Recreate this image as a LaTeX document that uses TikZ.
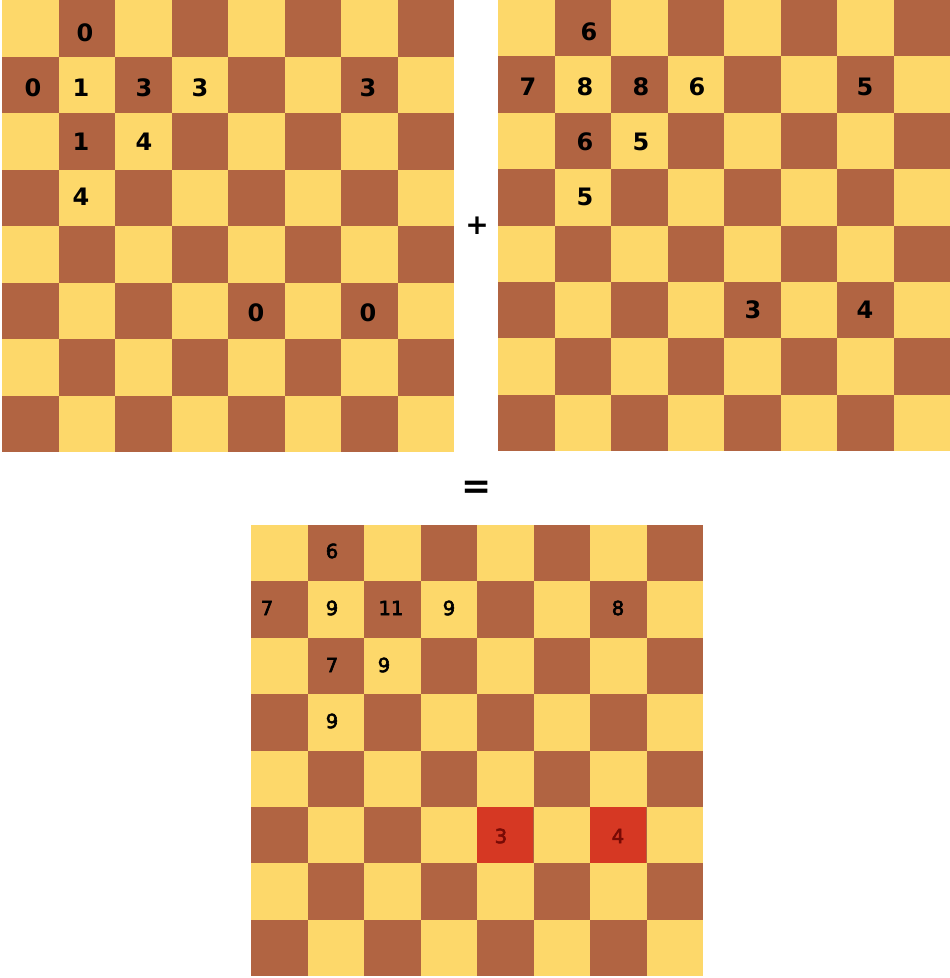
\documentclass[tikz,border=0pt]{standalone}
\usepackage{fontspec}
\setmainfont{DejaVu Sans}
\newfontfamily\semibfont[FakeBold=3]{DejaVu Sans}
\definecolor{lightsq}{RGB}{253,216,106}
\definecolor{darksq}{RGB}{177,100,66}
\definecolor{hotsq}{RGB}{214,56,35}
\definecolor{hottxt}{RGB}{120,10,5}
\tikzset{
  numA/.style={font=\fontsize{24}{24}\selectfont\bfseries, text=black, inner sep=0pt},
  numB/.style={font=\semibfont\fontsize{19.5}{19.5}\selectfont, text=black, inner sep=0pt},
  sign/.style={font=\fontsize{28}{28}\selectfont\bfseries, text=black, inner sep=0pt},
}
\newcommand{\myboard}[3]{%
  \foreach \r in {0,...,7}{\foreach \c in {0,...,7}{%
    \pgfmathtruncatemacro{\myparity}{mod(\r+\c,2)}%
    \ifnum\myparity=0 \def\sqc{lightsq}\else\def\sqc{darksq}\fi
    \fill[\sqc] ({#1+56.5*\c},{#2+#3*\r}) rectangle ({#1+56.5*(\c+1)},{#2+#3*(\r+1)});
  }}%
}
\begin{document}
\begin{tikzpicture}[x=1pt,y=-1pt]
\useasboundingbox (0,0) rectangle (950,978);
\fill[white] (0,0) rectangle (950,978);
\myboard{2}{0}{56.5}
\myboard{498}{0}{56.375}
\myboard{251}{525}{56.375}
% red squares
\fill[hotsq] (476.5,806.9) rectangle (533,863.3);
\fill[hotsq] (589.5,806.9) rectangle (646,863.3);
% board 1
\node[numA] (a01) at (85,33) {0};
\node[numA] (a10) at (33,88) {0};
\node[numA] (a11) at (81,88) {1};
\node[numA] (a12) at (144,88) {3};
\node[numA] (a13) at (200,88) {3};
\node[numA] (a16) at (368,88) {3};
\node[numA] (a21) at (81,142) {1};
\node[numA] (a22) at (144,142) {4};
\node[numA] (a31) at (81,197) {4};
\node[numA] (a54) at (256,313) {0};
\node[numA] (a56) at (368,313) {0};
% board 2
\node[numA] (b01) at (589,32) {6};
\node[numA] (b10) at (528,87) {7};
\node[numA] (b11) at (585,87) {8};
\node[numA] (b12) at (641,87) {8};
\node[numA] (b13) at (697,87) {6};
\node[numA] (b16) at (865,87) {5};
\node[numA] (b21) at (585,142) {6};
\node[numA] (b22) at (641,142) {5};
\node[numA] (b31) at (585,197) {5};
\node[numA] (b54) at (753,310) {3};
\node[numA] (b56) at (865,310) {4};
% board 3
\node[numB] (c01) at (332,551) {6};
\node[numB] (c10) at (267,608) {7};
\node[numB] (c11) at (332,608) {9};
\node[numB] (c12) at (391,608) {11};
\node[numB] (c13) at (449,608) {9};
\node[numB] (c16) at (618,608) {8};
\node[numB] (c21) at (332,665) {7};
\node[numB] (c22) at (384,665) {9};
\node[numB] (c31) at (332,721) {9};
\node[numB, text=hottxt] (c54) at (501,836) {3};
\node[numB, text=hottxt] (c56) at (618,836) {4};
% signs
\node[sign] (plus) at (477,226) {+};
\node[sign, font=\fontsize{36}{36}\selectfont\bfseries] (eq) at (477,490) {=};
\end{tikzpicture}
\end{document}
